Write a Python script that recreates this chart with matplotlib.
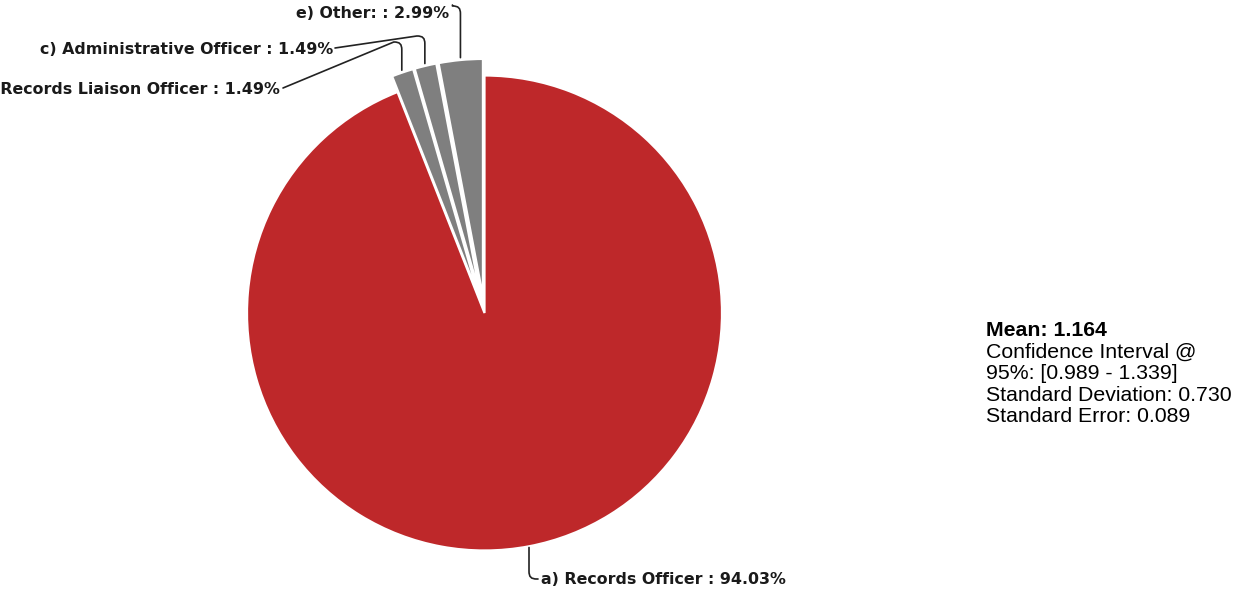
import numpy as np
import matplotlib
matplotlib.use("Agg")
import matplotlib.pyplot as plt
from matplotlib.path import Path
from matplotlib.patches import PathPatch

# Survey answers and their shares (percent)
categories = ["a) Records Officer", "b) Records Liaison Officer",
              "c) Administrative Officer", "e) Other:"]
shares = [94.03, 1.49, 1.49, 2.99]
slice_colors = ["#BE282A", "#7F7F7F", "#7F7F7F", "#7F7F7F"]
explode_frac = [0.0, 0.07, 0.07, 0.07]

stats_title = "Mean: 1.164"
stats_lines = ["Confidence Interval @", "95%: [0.989 - 1.339]",
               "Standard Deviation: 0.730", "Standard Error: 0.089"]

W, H = 1244, 594
fig = plt.figure(figsize=(W / 100, H / 100), dpi=100)
ax = fig.add_axes([0, 0, 1, 1])
ax.axis("off")

cx, cy, R = 484.5, H - 313, 237.5
wedges, _ = ax.pie(shares, colors=slice_colors, startangle=90, counterclock=False,
                   explode=[e * R for e in explode_frac], center=(cx, cy), radius=R,
                   normalize=True,
                   wedgeprops=dict(edgecolor="white", linewidth=1.6))
ax.set_xlim(0, W)
ax.set_ylim(0, H)
ax.set_aspect("equal")


def anchor_of(w, frac=1.0):
    ang = np.deg2rad((w.theta1 + w.theta2) / 2)
    wx, wy = w.center
    r = w.r * frac
    return wx + r * np.cos(ang), wy + r * np.sin(ang)


def leader(start, knee_y, end, hook):
    """Vertical run from the slice, rounded bend, then straight to the label."""
    sx, sy = start
    sgn = 1 if knee_y > sy else -1
    verts = [(sx, sy), (sx, knee_y),
             (sx, knee_y + sgn * 6), (sx + hook * 2, knee_y + sgn * 8), (sx + hook * 8, knee_y + sgn * 8),
             end]
    codes = [Path.MOVETO, Path.LINETO, Path.CURVE4, Path.CURVE4, Path.CURVE4, Path.LINETO]
    ax.add_patch(PathPatch(Path(verts, codes), fill=False, edgecolor="#222222", lw=1.2,
                           capstyle="round", joinstyle="round"))


label_font = dict(family="DejaVu Sans", fontweight="bold", fontsize=11.4, color="#1a1a1a")
labels = [f"{c} : {s:.2f}%" for c, s in zip(categories, shares)]

# a) below the pie, hooking right
ax_, ay_ = anchor_of(wedges[0], 1.005)
leader((ax_, ay_), H - 571, (ax_ + 9, H - 579), hook=1)
ax.text(541, H - 580, labels[0], ha="left", va="center", **label_font)

# b) and c) to the upper left, e) straight above
bx, by = anchor_of(wedges[1], 1.01)
leader((bx, by), H - 50, (283, H - 88), hook=-1)
ax.text(280, H - 89, labels[1], ha="right", va="center", **label_font)

ccx, ccy = anchor_of(wedges[2], 1.01)
leader((ccx, ccy), H - 44, (335, H - 48), hook=-1)
ax.text(333, H - 50, labels[2], ha="right", va="center", **label_font)

ex, ey = anchor_of(wedges[3], 1.01)
leader((ex, ey), H - 14, (ex - 8, H - 5), hook=-1)
ax.text(449, H - 14, labels[3], ha="right", va="center", **label_font)

# summary statistics
stat_font = dict(family="Liberation Sans", fontsize=15.3, color="black", va="baseline")
ax.text(986, H - 336.5, stats_title, fontweight="bold", **stat_font)
for i, line in enumerate(stats_lines):
    ax.text(986, H - 358 - 21.3 * i, line, **stat_font)

fig.savefig("out.png", dpi=100, facecolor="white")
